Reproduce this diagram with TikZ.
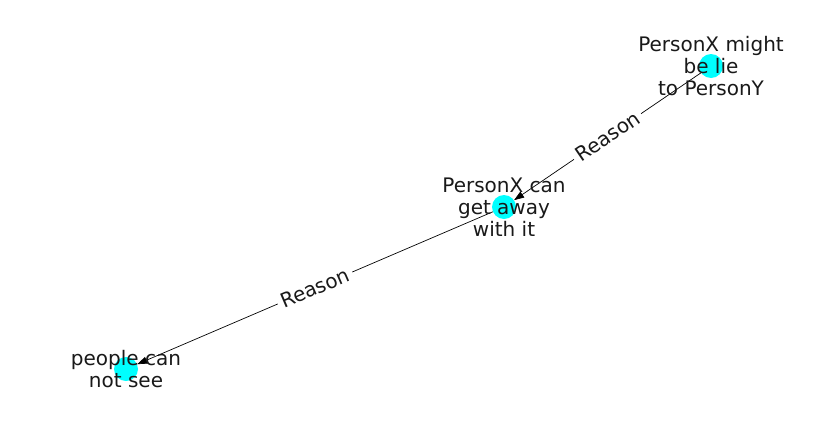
\documentclass[tikz,border=0pt]{standalone}
\usepackage{fontspec}
\setmainfont{DejaVu Sans}
\usetikzlibrary{arrows.meta}

\definecolor{nodecyan}{RGB}{0,255,255}
\tikzset{
  dot/.style={circle,fill=nodecyan,minimum size=24pt,inner sep=0pt},
  txt/.style={align=center,font=\fontsize{20}{22}\selectfont,text=black!90},
  rel/.style={draw=black,line width=0.7pt,-{Triangle[length=10pt,width=7pt]}},
  tag/.style={fill=white,sloped,inner sep=4pt,font=\fontsize{20}{22}\selectfont,text=black!90}
}

\begin{document}
\begin{tikzpicture}[x=1pt,y=-1pt]
            \useasboundingbox (0,0) rectangle (837,434);
            \node[dot] (lie) at (711,66) {};
            \node[dot] (away) at (504,207) {};
            \node[dot] (see) at (126,369) {};
            \draw[rel] (lie) -- node[tag] {Reason} (away);
            \draw[rel] (away) -- node[tag] {Reason} (see);
            \node[txt] (lie-t) at (lie) {PersonX might\\be lie\\to PersonY};
            \node[txt] (away-t) at (away) {PersonX can\\get away\\with it};
            \node[txt] (see-t) at (see) {people can\\not see};
        \end{tikzpicture}
\end{document}
